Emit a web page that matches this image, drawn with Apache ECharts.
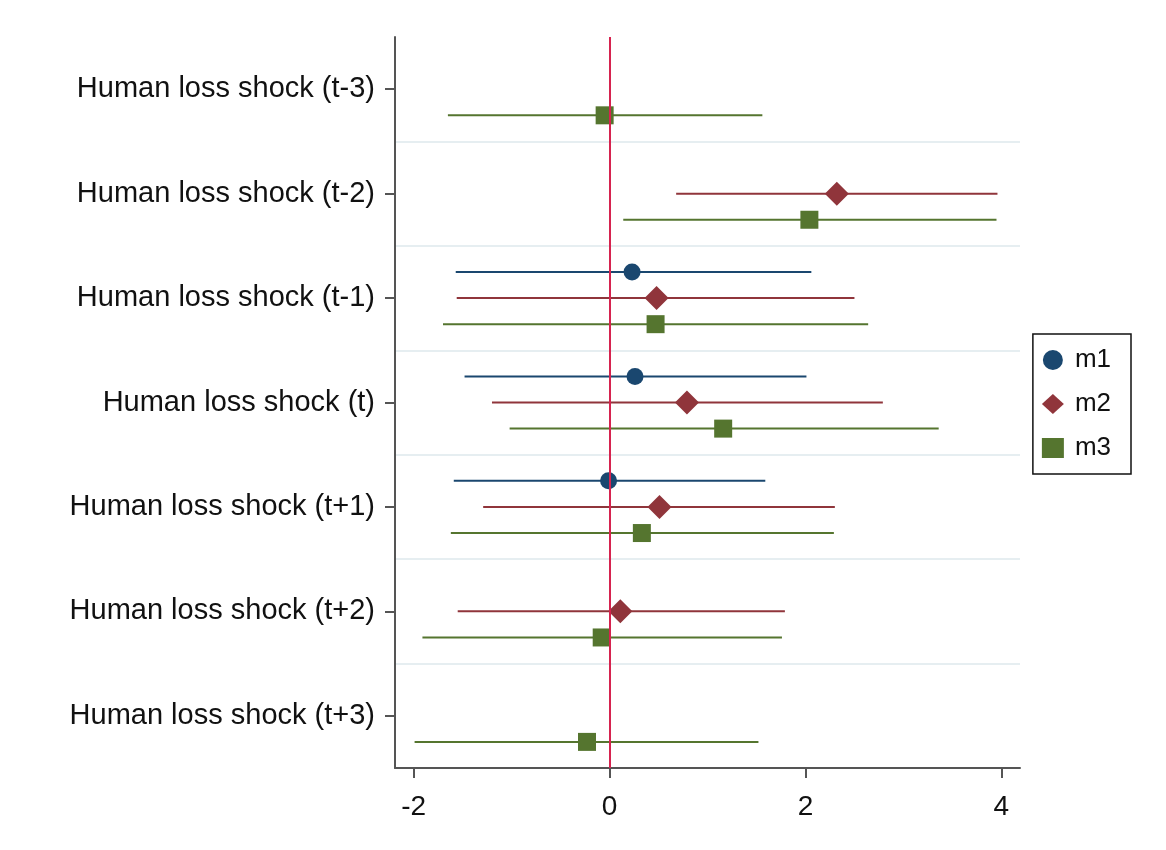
<!DOCTYPE html>
<html>
<head>
<meta charset="utf-8">
<script src="https://cdn.jsdelivr.net/npm/echarts@6/dist/echarts.min.js"></script>
<style>
  html, body { margin: 0; padding: 0; background: #fff; }
  #chart { width: 1166px; height: 850px; }
</style>
</head>
<body>
<div id="chart"></div>
<script>
// coefficient plot data, one entry per category (null = not in model)
const categories = [
  'Human loss shock (t-3)', 'Human loss shock (t-2)', 'Human loss shock (t-1)',
  'Human loss shock (t)', 'Human loss shock (t+1)', 'Human loss shock (t+2)',
  'Human loss shock (t+3)'
];
const xTicks = [-2, 0, 2, 4];
const models = ['m1', 'm2', 'm3'];

const m1Est = [null, null, 0.23, 0.26, -0.01, null, null];
const m1Lo  = [null, null, -1.57, -1.48, -1.59, null, null];
const m1Hi  = [null, null, 2.06, 2.01, 1.59, null, null];

const m2Est = [null, 2.32, 0.48, 0.79, 0.51, 0.11, null];
const m2Lo  = [null, 0.68, -1.56, -1.20, -1.29, -1.55, null];
const m2Hi  = [null, 3.96, 2.50, 2.79, 2.30, 1.79, null];

const m3Est = [-0.05, 2.04, 0.47, 1.16, 0.33, -0.08, -0.23];
const m3Lo  = [-1.65, 0.14, -1.70, -1.02, -1.62, -1.91, -1.99];
const m3Hi  = [1.56, 3.95, 2.64, 3.36, 2.29, 1.76, 1.52];

const colors = ['#1a476f', '#90353b', '#55752f'];
const shapes = ['circle', 'diamond', 'square'];

function toData(est, lo, hi) {
  let out = [];
  est.forEach((e, i) => {
    if (e === null) return;
    out.push([lo[i], hi[i], e, i]);
  });
  return out;
}

function makeRender(k) {
  return function (params, api) {
    const cat = api.value(3);
    const band = api.size([0, 1])[1];
    const dy = (k - 1) * band * 0.25;
    const p0 = api.coord([api.value(0), cat]);
    const p1 = api.coord([api.value(1), cat]);
    const pe = api.coord([api.value(2), cat]);
    const y = p0[1] + dy;
    const c = colors[k];
    let marker;
    if (shapes[k] === 'circle') {
      marker = { type: 'circle', shape: { cx: pe[0], cy: y, r: 8.5 }, style: { fill: c } };
    } else if (shapes[k] === 'diamond') {
      const r = 12;
      marker = {
        type: 'polygon',
        shape: { points: [[pe[0], y - r], [pe[0] + r, y], [pe[0], y + r], [pe[0] - r, y]] },
        style: { fill: c }
      };
    } else {
      marker = { type: 'rect', shape: { x: pe[0] - 9, y: y - 9, width: 18, height: 18 }, style: { fill: c } };
    }
    return {
      type: 'group',
      children: [
        { type: 'line', shape: { x1: p0[0], y1: y, x2: p1[0], y2: y }, style: { stroke: c, lineWidth: 2 } },
        marker
      ]
    };
  };
}

const series = [
  { name: 'm1', type: 'custom', renderItem: makeRender(0), encode: { x: [0, 1, 2], y: 3 },
    itemStyle: { color: colors[0] }, data: toData(m1Est, m1Lo, m1Hi), z: 3 },
  { name: 'm2', type: 'custom', renderItem: makeRender(1), encode: { x: [0, 1, 2], y: 3 },
    itemStyle: { color: colors[1] }, data: toData(m2Est, m2Lo, m2Hi), z: 3 },
  { name: 'm3', type: 'custom', renderItem: makeRender(2), encode: { x: [0, 1, 2], y: 3 },
    itemStyle: { color: colors[2] }, data: toData(m3Est, m3Lo, m3Hi), z: 3 },
  {
    name: 'zero', type: 'line', data: [], z: 2,
    markLine: {
      silent: true,
      symbol: 'none',
      label: { show: false },
      lineStyle: { color: '#d6234f', width: 2, type: 'solid' },
      data: [{ xAxis: 0 }]
    }
  }
];

const option = {
  animation: false,
  backgroundColor: '#fff',
  textStyle: { fontFamily: 'Liberation Sans, Arial, sans-serif' },
  grid: { left: 395, right: 146, top: 37, bottom: 82 },
  legend: {
    orient: 'vertical',
    right: 35,
    top: 334,
    data: [
      { name: 'm1', icon: 'circle' },
      { name: 'm2', icon: 'diamond' },
      { name: 'm3', icon: 'rect' }
    ],
    itemWidth: 22,
    itemHeight: 20,
    itemGap: 18,
    padding: [13, 20, 13, 9],
    borderColor: '#111',
    borderWidth: 1.5,
    textStyle: { fontSize: 26, color: '#111', padding: [0, 0, 0, 6] }
  },
  xAxis: {
    type: 'value',
    min: -2.19,
    max: 4.19,
    axisLine: { show: true, onZero: false, lineStyle: { color: '#555', width: 2 } },
    axisTick: { show: true, length: 10, customValues: xTicks, lineStyle: { color: '#555', width: 2 } },
    axisLabel: { customValues: xTicks, fontSize: 28, color: '#111', margin: 25 },
    splitLine: { show: false }
  },
  yAxis: {
    type: 'category',
    inverse: true,
    data: categories,
    boundaryGap: true,
    axisLine: { show: true, onZero: false, lineStyle: { color: '#555', width: 2 } },
    axisTick: { show: true, alignWithLabel: true, length: 10, lineStyle: { color: '#555', width: 2 } },
    axisLabel: { fontSize: 29, color: '#111', margin: 20, interval: 0 },
    splitLine: {
      show: true,
      interval: function (index) { return index !== 0; },
      lineStyle: { color: '#e6eef1', width: 2 }
    }
  },
  series: series
};

const chart = echarts.init(document.getElementById('chart'));
chart.setOption(option);
</script>
</body>
</html>
